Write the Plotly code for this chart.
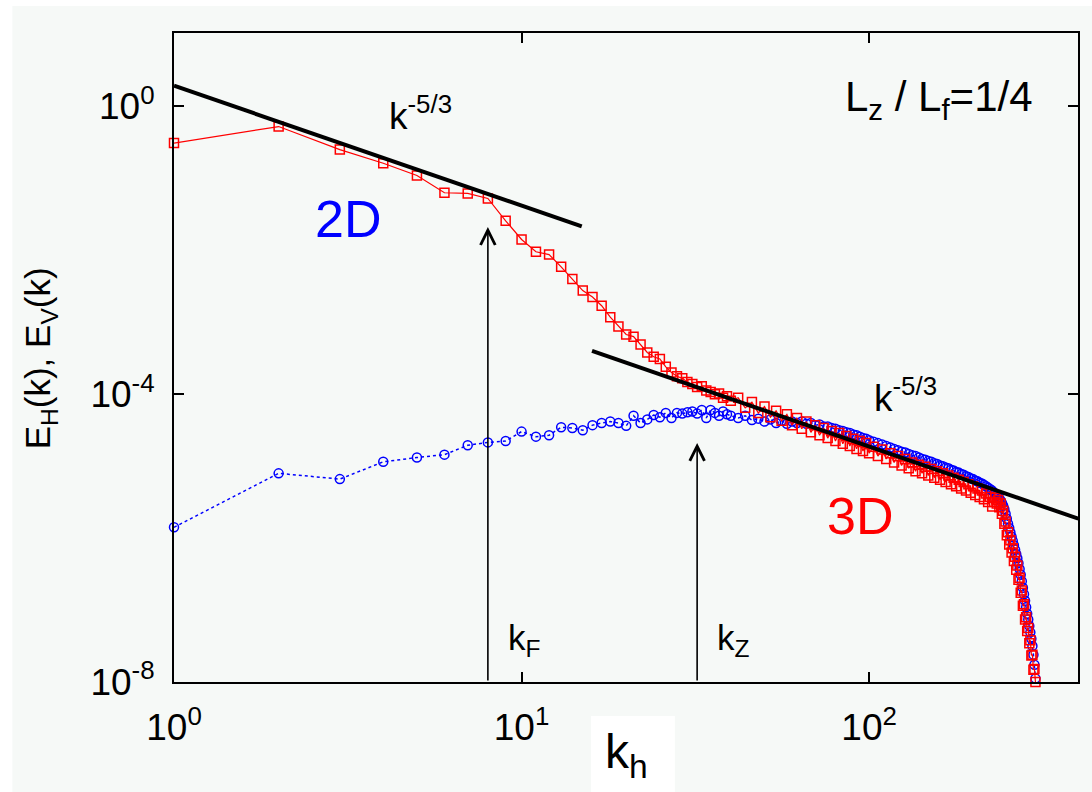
import numpy as np
import plotly.graph_objects as go

# ---------------- data ----------------
k_h = (list(range(1, 41)) + list(range(42, 101, 2)) +
       list(range(103, 230, 3)) + list(range(231, 302, 2)))

# log10 E_H(k)  (red squares)
log10_EH = [
    -0.51, -0.28, -0.60, -0.79, -0.96, -1.20, -1.21, -1.28, -1.59, -1.85,
    -2.02, -2.06, -2.23, -2.40, -2.56, -2.65, -2.77, -2.93, -3.06, -3.17,
    -3.20, -3.31, -3.42, -3.48, -3.51, -3.62, -3.70, -3.75, -3.78, -3.83,
    -3.86, -3.90, -3.89, -3.95, -3.97, -4.00, -3.99, -4.05, -4.03, -4.09,
    # 42..100 step 2
    -4.05, -4.19, -4.11, -4.26, -4.17, -4.32, -4.23, -4.37, -4.28, -4.43,
    -4.33, -4.48, -4.38, -4.53, -4.43, -4.57, -4.47, -4.61, -4.51, -4.65,
    -4.54, -4.69, -4.58, -4.72, -4.62, -4.76, -4.65, -4.79, -4.68, -4.82,
    # 103..229 step 3
    -4.73, -4.86, -4.77, -4.90, -4.82, -4.95, -4.86, -4.99, -4.90, -5.03,
    -4.95, -5.07, -4.98, -5.10, -5.01, -5.13, -5.04, -5.16, -5.07, -5.19,
    -5.10, -5.22, -5.13, -5.25, -5.16, -5.28, -5.19, -5.31, -5.22, -5.34,
    -5.25, -5.37, -5.28, -5.40, -5.31, -5.43, -5.34, -5.46, -5.38, -5.50,
    -5.43, -5.56, -5.50,
    # 231..301 step 2
    -5.44, -5.52, -5.47, -5.57, -5.52, -5.66, -5.62, -5.80, -5.77, -5.96,
    -5.92, -6.09, -6.03, -6.20, -6.14, -6.32, -6.26, -6.44, -6.38, -6.58,
    -6.55, -6.76, -6.73, -6.94, -6.92, -7.13, -7.10, -7.29, -7.25, -7.46,
    -7.42, -7.63, -7.62, -7.83, -7.82, -8.00,
]

# log10 E_V(k)  (blue circles)
log10_EV = [
    -5.85, -5.10, -5.18, -4.94, -4.88, -4.84, -4.71, -4.67, -4.65, -4.52,
    -4.59, -4.57, -4.46, -4.47, -4.50, -4.43, -4.40, -4.38, -4.40, -4.44,
    -4.30, -4.40, -4.35, -4.29, -4.32, -4.26, -4.33, -4.26, -4.27, -4.25,
    -4.24, -4.27, -4.22, -4.33, -4.22, -4.26, -4.30, -4.24, -4.28, -4.30,
    # 42..100 step 2
    -4.33, -4.30, -4.36, -4.34, -4.38, -4.35, -4.40, -4.37, -4.41, -4.38,
    -4.40, -4.38, -4.41, -4.40, -4.43, -4.42, -4.45, -4.45, -4.47, -4.48,
    -4.50, -4.51, -4.53, -4.54, -4.56, -4.57, -4.59, -4.61, -4.62, -4.64,
    # 103..229 step 3
    -4.66, -4.68, -4.70, -4.72, -4.74, -4.76, -4.78, -4.80, -4.81, -4.83,
    -4.85, -4.86, -4.88, -4.90, -4.91, -4.93, -4.94, -4.96, -4.97, -4.99,
    -5.00, -5.02, -5.03, -5.05, -5.06, -5.08, -5.09, -5.11, -5.12, -5.14,
    -5.15, -5.17, -5.18, -5.20, -5.21, -5.23, -5.24, -5.26, -5.28, -5.30,
    -5.32, -5.34, -5.37,
    # 231..301 step 2
    -5.39, -5.41, -5.43, -5.45, -5.48, -5.51, -5.55, -5.60, -5.66, -5.73,
    -5.80, -5.86, -5.92, -5.98, -6.04, -6.10, -6.16, -6.22, -6.28, -6.35,
    -6.43, -6.51, -6.60, -6.69, -6.78, -6.87, -6.96, -7.05, -7.13, -7.22,
    -7.31, -7.40, -7.50, -7.62, -7.76, -7.95,
]

# k^-5/3 reference lines (end points)
slope1_k = [1.0, 14.9]
slope1_E = [1.94, 2.15e-2]
slope2_k = [15.95, 400.0]
slope2_E = [3.99e-4, 1.86e-6]

# forcing / kz arrows
arrow_k = [8.0, 32.0]
arrow_tip_E = [2.1e-2, 2.1e-5]
arrow_base_E = 1e-8
arrow_labels = ["k<sub>F</sub>", "k<sub>Z</sub>"]

x_tickvals = [1, 10, 100]
x_ticktext = ["10<sup>0</sup>", "10<sup>1</sup>", "10<sup>2</sup>"]
y_tickvals = [1, 1e-4, 1e-8]
y_ticktext = ["10<sup>0</sup>", "10<sup>-4</sup>", "10<sup>-8</sup>"]

E_H = [10 ** v for v in log10_EH]
E_V = [10 ** v for v in log10_EV]

FONT = "Liberation Sans, Arial, Helvetica, sans-serif"
BG = "#f6f9f7"

# plot area in px: x 174..1080, y 33..682
L, R, T, B = 174, 1080, 33, 682
def xp(px):
    return (px - L) / (R - L)
def yp(py):
    return (B - py) / (B - T)

fig = go.Figure()

fig.add_trace(go.Scatter(
    x=k_h, y=E_V, mode="lines+markers", name="E_V",
    line=dict(color="#0000ff", width=1.5, dash="dot"),
    marker=dict(symbol="circle-open", size=9, color="#0000ff",
                line=dict(width=1.5, color="#0000ff")),
    cliponaxis=False, showlegend=False))

fig.add_trace(go.Scatter(
    x=k_h, y=E_H, mode="lines+markers", name="E_H",
    line=dict(color="#ff0000", width=1.2),
    marker=dict(symbol="square-open", size=9, color="#ff0000",
                line=dict(width=1.5, color="#ff0000")),
    cliponaxis=False, showlegend=False))

fig.add_trace(go.Scatter(x=slope1_k, y=slope1_E, mode="lines",
                         line=dict(color="black", width=4), showlegend=False))
fig.add_trace(go.Scatter(x=slope2_k, y=slope2_E, mode="lines",
                         line=dict(color="black", width=4), showlegend=False))

annotations = []
for kk, tip in zip(arrow_k, arrow_tip_E):
    annotations.append(dict(
        x=np.log10(kk), y=np.log10(tip), xref="x", yref="y",
        ax=np.log10(kk), ay=np.log10(arrow_base_E), axref="x", ayref="y",
        text="", showarrow=True, arrowhead=5, arrowsize=1.8, arrowwidth=1.6,
        arrowcolor="black", standoff=0, startstandoff=0))

def txt(text, px, py, size, color="black", **kw):
    d = dict(text=text, x=xp(px), y=yp(py), xref="paper", yref="paper",
             showarrow=False, xanchor="center", yanchor="middle",
             font=dict(family=FONT, size=size, color=color))
    d.update(kw)
    annotations.append(d)

txt("k<sup>-5/3</sup>", 421, 113, 37)
txt("k<sup>-5/3</sup>", 907, 395, 37)
txt("2D", 348, 219, 52, "#0000ff")
txt("3D", 862, 516, 52, "#ff0000")
txt("L<sub>z</sub> / L<sub>f</sub>=1/4", 941, 100, 42)
txt(arrow_labels[0], 525, 640, 35)
txt(arrow_labels[1], 735, 640, 35)
txt("k<sub>h</sub>", 628, 755, 48)
txt("E<sub>H</sub>(k), E<sub>V</sub>(k)", 40, 358, 35, textangle=-90)

shapes = [
    # white outer strips
    dict(type="rect", xref="paper", yref="paper", x0=-0.3, x1=1.2,
         y0=yp(6), y1=1.2, fillcolor="white", line=dict(width=0), layer="below"),
    dict(type="rect", xref="paper", yref="paper", x0=-0.3, x1=xp(12),
         y0=-0.3, y1=1.2, fillcolor="white", line=dict(width=0), layer="below"),
    # white box behind x title
    dict(type="rect", xref="paper", yref="paper", x0=xp(592), x1=xp(676),
         y0=-0.3, y1=yp(716), fillcolor="white", line=dict(width=0), layer="below"),
]

axis_common = dict(
    showgrid=False, zeroline=False, showline=True, linecolor="black",
    linewidth=2, mirror="ticks", ticks="inside", ticklen=10, tickwidth=1.5,
    tickcolor="black", tickfont=dict(family=FONT, size=37, color="black"),
)

fig.update_layout(
    width=1092, height=792, autosize=False,
    margin=dict(l=L, r=1092 - R, t=T, b=792 - B),
    paper_bgcolor=BG, plot_bgcolor=BG,
    xaxis=dict(type="log", range=[0, 2.601], tickvals=x_tickvals,
               ticktext=x_ticktext, ticklabelstandoff=12, **axis_common),
    yaxis=dict(type="log", range=[-8, 1.02], tickvals=y_tickvals,
               ticktext=y_ticktext, ticklabelstandoff=10, **axis_common),
    annotations=annotations, shapes=shapes,
    font=dict(family=FONT),
)

fig.write_html("out.html")
